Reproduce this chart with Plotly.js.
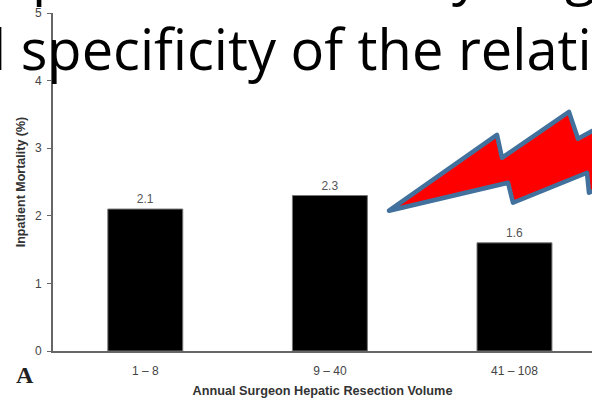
<!DOCTYPE html>
<html>
<head>
<meta charset="utf-8">
<script src="https://cdn.plot.ly/plotly-3.0.1.min.js"></script>
<style>
html,body{margin:0;padding:0;background:#fff;overflow:hidden}
.shapelayer path{stroke-linejoin:round}
</style>
</head>
<body>
<div id="chart" style="width:592px;height:398px"></div>
<script>
// Inpatient mortality by annual surgeon hepatic resection volume
const volumeBands = ['1 – 8', '9 – 40', '41 – 108'];
const mortalityPct = [2.1, 2.3, 1.6];
const mortalityLabels = ['2.1', '2.3', '1.6'];
const yTicks = [0, 1, 2, 3, 4, 5];

const W = 592, H = 398;
const m = {l: 53, r: 0, t: 13, b: 46.5};
const plotW = W - m.l - m.r, plotH = H - m.t - m.b;
// Page pixels to paper fractions, for the slide overlay
const px = x => (x - m.l) / plotW;
const py = y => 1 - (y - m.t) / plotH;
const boltPts = [[389,211],[497,135],[502,158],[569,112],[578,139],[640,105],[640,170],[589,193],[587,173],[513,203],[508,183]];
const boltPath = 'M' + boltPts.map(p => px(p[0]).toFixed(4) + ',' + py(p[1]).toFixed(4)).join(' L') + ' Z';

const chartFont = 'Liberation Sans, Arial, sans-serif';
const slideFont = {family: '"Open Sans", sans-serif', size: 56, color: '#000'};
const label = (text, x, y, font, extra) => Object.assign({
  text, xref: 'paper', yref: 'paper', x: px(x), y: py(y), showarrow: false, font
}, extra || {});
const slideText = (text, x, y) => label(text, x, y, slideFont, {xanchor: 'left', yanchor: 'bottom', yshift: -16, align: 'left'});

const traces = [{
  type: 'bar',
  x: volumeBands,
  y: mortalityPct,
  width: 0.406,
  marker: {color: '#000', line: {color: '#777', width: 1}},
  text: mortalityLabels,
  textposition: 'outside',
  cliponaxis: false,
  textfont: {family: chartFont, size: 12, color: '#555'},
  hoverinfo: 'skip'
}];

const layout = {
  width: W, height: H, margin: m, showlegend: false,
  paper_bgcolor: '#fff', plot_bgcolor: '#fff',
  xaxis: {
    type: 'category', range: [-0.5, 2.42], showline: true, linecolor: '#666', linewidth: 2,
    ticks: '', tickfont: {family: chartFont, size: 12, color: '#444'},
    showgrid: false, zeroline: false, automargin: false, ticklabelstandoff: 8,
    title: {text: '<b>Annual Surgeon Hepatic Resection Volume</b>', standoff: 10,
      font: {family: chartFont, size: 12.7, color: '#333'}}
  },
  yaxis: {
    range: [0, 5], tickvals: yTicks, showline: true, linecolor: '#666', linewidth: 2,
    ticks: 'outside', ticklen: 4, tickcolor: '#666', tickwidth: 1,
    tickfont: {family: chartFont, size: 12, color: '#444'}, ticklabelstandoff: 3,
    showgrid: false, zeroline: false, automargin: false,
    title: {text: '<b>Inpatient Mortality (%)</b>', standoff: 7,
      font: {family: chartFont, size: 12.5, color: '#333'}}
  },
  shapes: [{
    type: 'path', xref: 'paper', yref: 'paper', path: boltPath,
    fillcolor: '#ff0000', line: {color: '#41719c', width: 4.5}, layer: 'above'
  }],
  annotations: [
    slideText('l specificity of the relati', -10, 72),
    slideText('p', 30, -5),
    slideText('y', 450, -5),
    slideText('g', 563, -5),
    label('<b>A</b>', 24.5, 376, {family: 'Liberation Serif, serif', size: 24, color: '#222'}, {xanchor: 'center', yanchor: 'middle'})
  ]
};

Plotly.newPlot('chart', traces, layout, {displayModeBar: false, staticPlot: true});
</script>
</body>
</html>
